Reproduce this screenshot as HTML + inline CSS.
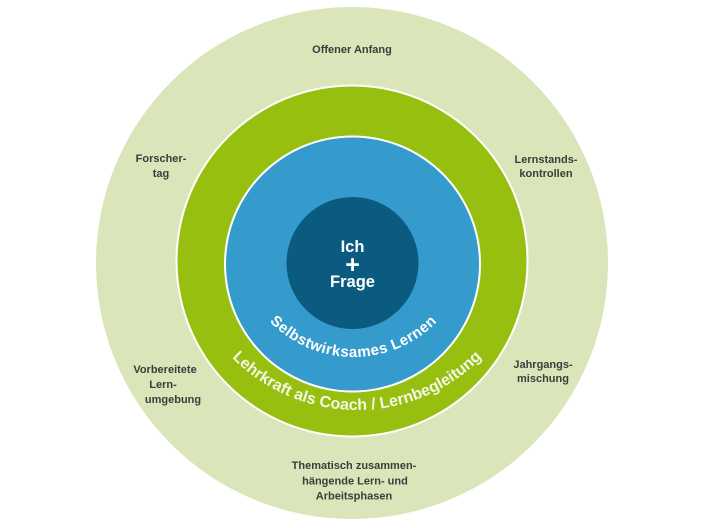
<!DOCTYPE html>
<html>
<head>
<meta charset="utf-8">
<style>
  html, body { margin: 0; padding: 0; background: #ffffff; }
  svg { display: block; }
  .lbl { font-family: "Liberation Sans", "DejaVu Sans", sans-serif; font-weight: bold; font-size: 11px; fill: #3b3d3a; }
  .ctr { font-family: "Liberation Sans", "DejaVu Sans", sans-serif; font-weight: bold; fill: #ffffff; }
</style>
</head>
<body>
<svg width="704" height="528" viewBox="0 0 704 528" xmlns="http://www.w3.org/2000/svg">
  <defs>
    <path id="arcBlue" d="M 236.5 240 A 117 117 0 0 0 470.5 240"/>
    <path id="arcGreen" d="M 182 235 A 175 175 0 0 0 532 235"/>
  </defs>

  <!-- outer light green -->
  <circle cx="352" cy="263" r="256" fill="#dae5b9"/>
  <!-- green ring with white border -->
  <circle cx="352" cy="261" r="176.5" fill="#ffffff"/>
  <circle cx="352" cy="261" r="174.5" fill="#97bf10"/>
  <!-- blue with white border -->
  <circle cx="352.5" cy="264" r="128.5" fill="#ffffff"/>
  <circle cx="352.5" cy="264" r="126.5" fill="#349bcc"/>
  <!-- dark blue core -->
  <circle cx="352.5" cy="263" r="66" fill="#0b5b81"/>

  <!-- center text -->
  <text class="ctr" x="352.5" y="252" font-size="16.5" text-anchor="middle">Ich</text>
  <text class="ctr" x="352.5" y="273" font-size="25" text-anchor="middle">+</text>
  <text class="ctr" x="352.5" y="287" font-size="16.5" text-anchor="middle">Frage</text>

  <!-- curved texts -->
  <text font-family="Liberation Sans, DejaVu Sans, sans-serif" font-weight="bold" font-size="15" fill="#ffffff" letter-spacing="0.5">
    <textPath href="#arcBlue" startOffset="50%" text-anchor="middle">Selbstwirksames Lernen</textPath>
  </text>
  <text font-family="Liberation Sans, DejaVu Sans, sans-serif" font-weight="bold" font-size="16" fill="#f3f7e4">
    <textPath href="#arcGreen" startOffset="50%" text-anchor="middle">Lehrkraft als Coach / Lernbegleitung</textPath>
  </text>

  <!-- outer labels -->
  <text class="lbl" x="352" y="53" text-anchor="middle">Offener Anfang</text>

  <text class="lbl" x="161" y="162" text-anchor="middle">Forscher-</text>
  <text class="lbl" x="161" y="177" text-anchor="middle">tag</text>

  <text class="lbl" x="546" y="163" text-anchor="middle">Lernstands-</text>
  <text class="lbl" x="546" y="177" text-anchor="middle">kontrollen</text>

  <text class="lbl" x="165" y="373" text-anchor="middle">Vorbereitete</text>
  <text class="lbl" x="163" y="388" text-anchor="middle">Lern-</text>
  <text class="lbl" x="173" y="403" text-anchor="middle">umgebung</text>

  <text class="lbl" x="543" y="368" text-anchor="middle">Jahrgangs-</text>
  <text class="lbl" x="543" y="382" text-anchor="middle">mischung</text>

  <text class="lbl" x="354" y="469" text-anchor="middle">Thematisch zusammen-</text>
  <text class="lbl" x="355" y="484.5" text-anchor="middle">hängende Lern- und</text>
  <text class="lbl" x="354" y="499.5" text-anchor="middle">Arbeitsphasen</text>
</svg>
</body>
</html>
